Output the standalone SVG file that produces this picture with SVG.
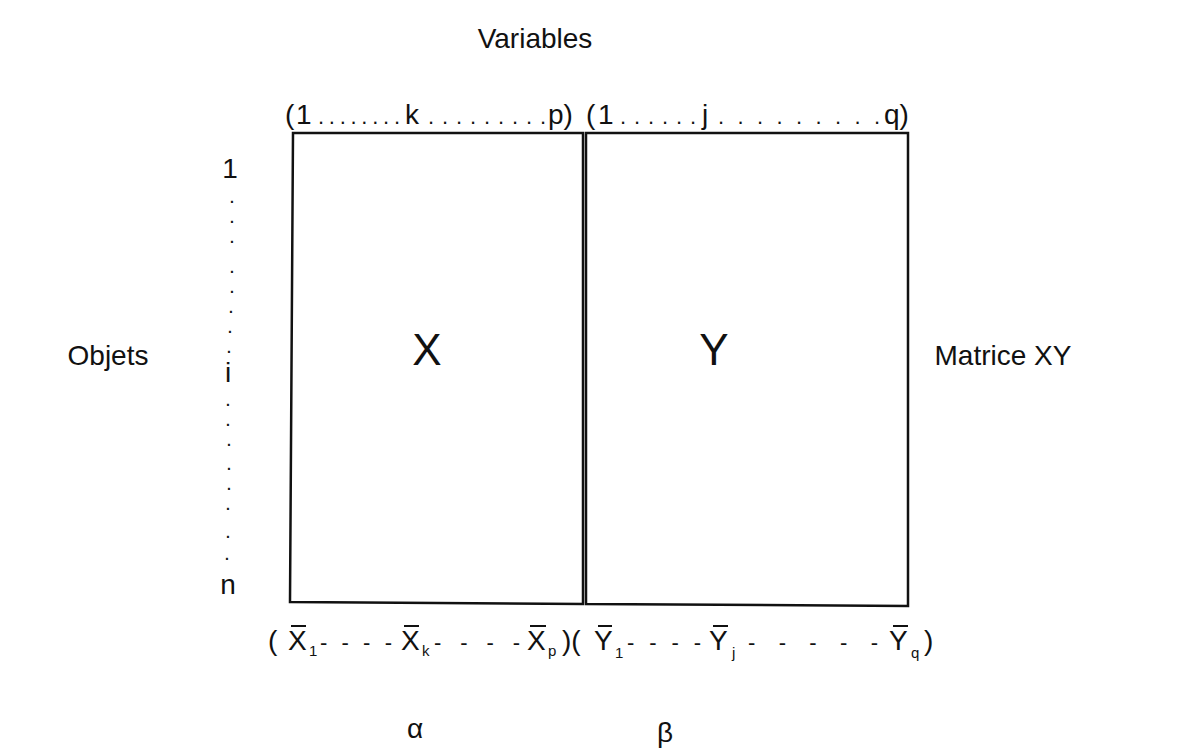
<svg xmlns="http://www.w3.org/2000/svg" width="1181" height="751" viewBox="0 0 1181 751">
<style>
text{font-family:"Liberation Sans",Arial,sans-serif;fill:#111}
.lbl{font-size:28px}
.big{font-size:44px}
.sub{font-size:15px}
.dots{font-size:22px}
.vd{font-size:14px;font-weight:bold}
.frame{fill:none;stroke:#111;stroke-width:2.5}
.bar{stroke:#111;stroke-width:2}
</style>
<rect width="1181" height="751" fill="#fff"/>
<g id="title"><text class="lbl" x="535" y="48" text-anchor="middle">Variables</text></g>
<g id="objets"><text class="lbl" x="108" y="365" text-anchor="middle">Objets</text></g>
<g id="matrice"><text class="lbl" x="1003" y="365" text-anchor="middle">Matrice  XY</text></g>
<g id="matrix-X">
<path class="frame" d="M293,133 L583,133 L583,604 L290,602 Z"/>
<text class="big" x="427" y="365" text-anchor="middle">X</text>
</g>
<g id="matrix-Y">
<path class="frame" d="M586,133 L908,133 L908,606 L586,604 Z"/>
<text class="big" x="714" y="365" text-anchor="middle">Y</text>
</g>
<g id="top-index">
<text class="lbl" x="285" y="124">(</text>
<text class="lbl" x="296" y="124">1</text>
<text class="dots" x="318" y="124" textLength="82" lengthAdjust="spacing">........</text>
<text class="lbl" x="405" y="124">k</text>
<text class="dots" x="428" y="124" textLength="118" lengthAdjust="spacing">.........</text>
<text class="lbl" x="548" y="124">p)</text>
<text class="lbl" x="586" y="124">(</text>
<text class="lbl" x="598" y="124">1</text>
<text class="dots" x="620" y="124" textLength="76" lengthAdjust="spacing">......</text>
<text class="lbl" x="702" y="124">j</text>
<text class="dots" x="718" y="124" textLength="162" lengthAdjust="spacing">.........</text>
<text class="lbl" x="884" y="124">q)</text>
</g>
<g id="left-index">
<text class="lbl" x="230" y="178" text-anchor="middle">1</text>
<text class="vd" x="232" y="203" text-anchor="middle">.</text>
<text class="vd" x="232" y="223" text-anchor="middle">.</text>
<text class="vd" x="232" y="243" text-anchor="middle">.</text>
<text class="vd" x="232" y="273" text-anchor="middle">.</text>
<text class="vd" x="232" y="293" text-anchor="middle">.</text>
<text class="vd" x="231" y="313" text-anchor="middle">.</text>
<text class="vd" x="230" y="333" text-anchor="middle">.</text>
<text class="vd" x="229" y="353" text-anchor="middle">.</text>
<text class="lbl" x="228" y="382" text-anchor="middle">i</text>
<text class="vd" x="228" y="406" text-anchor="middle">.</text>
<text class="vd" x="228" y="426" text-anchor="middle">.</text>
<text class="vd" x="229" y="446" text-anchor="middle">.</text>
<text class="vd" x="229" y="470" text-anchor="middle">.</text>
<text class="vd" x="229" y="490" text-anchor="middle">.</text>
<text class="vd" x="228" y="510" text-anchor="middle">.</text>
<text class="vd" x="228" y="538" text-anchor="middle">.</text>
<text class="vd" x="227" y="560" text-anchor="middle">.</text>
<text class="lbl" x="228" y="594" text-anchor="middle">n</text>
</g>
<g id="bottom-means">
<text class="lbl" x="268" y="650">(</text>
<line class="bar" x1="291" y1="626" x2="306" y2="626"/>
<text class="lbl" x="288" y="650">X</text>
<text class="sub" x="309" y="656">1</text>
<text class="dots" x="320" y="650" textLength="72" lengthAdjust="spacing">- - - -</text>
<line class="bar" x1="404" y1="626" x2="419" y2="626"/>
<text class="lbl" x="401" y="650">X</text>
<text class="sub" x="422" y="656">k</text>
<text class="dots" x="434" y="650" textLength="86" lengthAdjust="spacing">- - - -</text>
<line class="bar" x1="530" y1="626" x2="546" y2="626"/>
<text class="lbl" x="527" y="650">X</text>
<text class="sub" x="548" y="656">p</text>
<text class="lbl" x="562" y="650">)(</text>
<line class="bar" x1="598" y1="626" x2="612" y2="626"/>
<text class="lbl" x="594" y="650">Y</text>
<text class="sub" x="615" y="658">1</text>
<text class="dots" x="627" y="650" textLength="74" lengthAdjust="spacing">- - - -</text>
<line class="bar" x1="713" y1="626" x2="728" y2="626"/>
<text class="lbl" x="709" y="650">Y</text>
<text class="sub" x="732" y="658">j</text>
<text class="dots" x="748" y="650" textLength="130" lengthAdjust="spacing">- - - - -</text>
<line class="bar" x1="893" y1="626" x2="908" y2="626"/>
<text class="lbl" x="889" y="650">Y</text>
<text class="sub" x="911" y="658">q</text>
<text class="lbl" x="924" y="650">)</text>
</g>
<g id="alpha"><text class="lbl" x="415" y="738" text-anchor="middle">α</text></g>
<g id="beta"><text class="lbl" x="665" y="742" text-anchor="middle">β</text></g>
</svg>
